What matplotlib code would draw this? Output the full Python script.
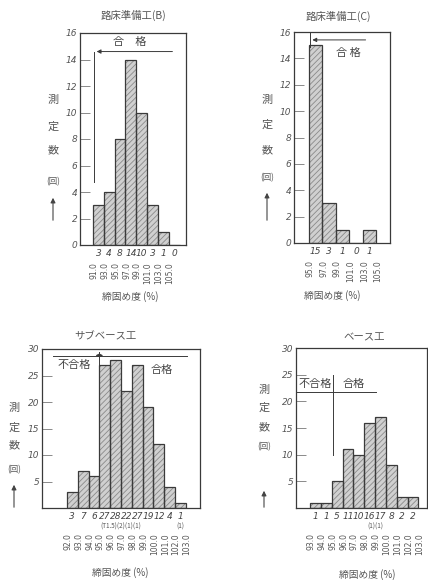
import numpy as np
import matplotlib
matplotlib.use('Agg')
import matplotlib.pyplot as plt
from matplotlib.transforms import ScaledTranslation

plt.rcParams['font.family'] = ['Noto Sans CJK JP', 'DejaVu Sans']
plt.rcParams['hatch.linewidth'] = 0.6

# data
titles = ['路床準備工(B)', '路床準備工(C)', 'サブベース工', 'ベース工']
counts_b = [3, 4, 8, 14, 10, 3, 1, 0]
edges_b = ['91.0', '93.0', '95.0', '97.0', '99.0', '101.0', '103.0', '105.0']
counts_c = [15, 3, 1, 0, 1]
edges_c = ['95.0', '97.0', '99.0', '101.0', '103.0', '105.0']
counts_sub = [3, 7, 6, 27, 28, 22, 27, 19, 12, 4, 1]
edges_sub = ['92.0', '93.0', '94.0', '95.0', '96.0', '97.0', '98.0', '99.0',
             '100.0', '101.0', '102.0', '103.0']
counts_base = [1, 1, 5, 11, 10, 16, 17, 8, 2, 2]
edges_base = ['93.0', '94.0', '95.0', '96.0', '97.0', '98.0', '99.0', '100.0',
              '101.0', '102.0', '103.0']

ink = '#3a3a3a'
W, H = 428, 580
fig = plt.figure(figsize=(W / 100, H / 100), dpi=100)


def px(x, y):
    return x / W, 1 - y / H


def below(ax, dy):
    # x in data, y = axis bottom shifted down by dy pixels
    return ax.get_xaxis_transform() + ScaledTranslation(0, -dy / 100, fig.dpi_scale_trans)


def panel(rect, counts, edges, ymax, ystep, xlim, show_zero, lab_dy):
    ax = fig.add_axes(rect)
    x = np.arange(len(counts))
    ax.bar(x, counts, width=1.0, align='edge', color='#d0d0d0', hatch='//////',
           edgecolor='#8a8a8a', linewidth=0)
    ax.bar(x, counts, width=1.0, align='edge', fill=False, edgecolor=ink, linewidth=0.9)
    ax.set_xlim(*xlim)
    ax.set_ylim(0, ymax)
    ticks = np.arange(0 if show_zero else ystep, ymax + 1, ystep)
    ax.set_yticks(ticks)
    ax.set_yticklabels([str(int(t)) for t in ticks], fontstyle='italic',
                       fontsize=6.5, color='#555', family='DejaVu Sans')
    ax.tick_params(axis='y', direction='in', length=7, width=0.6, color='#777', pad=2)
    ax.set_xticks([])
    for s in ax.spines.values():
        s.set_color(ink)
        s.set_linewidth(0.9)
    for i, c in enumerate(counts):
        ax.text(i + 0.5, 0, str(c), transform=below(ax, 4), ha='center', va='top',
                fontsize=6.5, fontstyle='italic', color='#444', family='DejaVu Sans')
    for i, e in enumerate(edges):
        ax.text(i + 0.1, 0, e, transform=below(ax, lab_dy), ha='center', va='top',
                rotation=90, fontsize=5.5, color='#555', family='DejaVu Sans')
    return ax


def ylabel(x, ys, arrow):
    for ch, y in zip(['測', '定', '数', '(回)'], ys):
        fs = 6 if ch == '(回)' else 8
        fig.text(*px(x, y), ch, ha='center', va='center', fontsize=fs, color='#555')
    fig.add_artist(matplotlib.patches.FancyArrowPatch(
        px(x, arrow[0]), px(x, arrow[1]), transform=fig.transFigure,
        arrowstyle='-|>', mutation_scale=7, color='#444', linewidth=0.8))


# panel 1
ax1 = panel([80 / W, 1 - 245 / H, 106 / W, 212 / H], counts_b, edges_b, 16, 2,
            (-1.2, 8.6), True, 17)
ax1.plot([0.08, 0.08], [4.75, 14.6], color=ink, lw=0.7)
ax1.annotate('', xy=(0.08, 14.6), xytext=(7.6, 14.6),
             arrowprops=dict(arrowstyle='-|>', color=ink, lw=0.7, mutation_scale=6))
ax1.text(3.4, 15.3, '合　格', ha='center', va='center', fontsize=8, color='#444')
fig.text(*px(133, 15), titles[0], ha='center', va='center', fontsize=7.5, color='#555')
fig.text(*px(130, 297), '締固め度 (%)', ha='center', va='center', fontsize=7, color='#555')
ylabel(53, [100, 127, 150, 182], (223, 195))

# panel 2
ax2 = panel([294 / W, 1 - 243 / H, 96 / W, 211 / H], counts_c, edges_c, 16, 2,
            (-1.1, 6.0), True, 17)
ax2.plot([0.05, 0.05], [14.9, 16], color=ink, lw=0.7)
ax2.annotate('', xy=(0.05, 15.4), xytext=(4.4, 15.4),
             arrowprops=dict(arrowstyle='-|>', color=ink, lw=0.7, mutation_scale=6))
ax2.text(2.9, 14.4, '合 格', ha='center', va='center', fontsize=8, color='#444')
fig.text(*px(338, 16), titles[1], ha='center', va='center', fontsize=7.5, color='#555')
fig.text(*px(332, 296), '締固め度 (%)', ha='center', va='center', fontsize=7, color='#555')
ylabel(267, [100, 125, 150, 178], (223, 190))

# panel 3
ax3 = panel([42 / W, 1 - 508 / H, 158 / W, 159 / H], counts_sub, edges_sub, 30, 5,
            (-2.3, 12.3), False, 25)
ax3.plot([-1.3, 11.1], [28.6, 28.6], color=ink, lw=0.7)
ax3.plot([3.0, 3.0], [26.0, 29.5], color=ink, lw=0.7)
ax3.annotate('', xy=(2.4, 28.8), xytext=(3.6, 28.8),
             arrowprops=dict(arrowstyle='<|-|>', color=ink, lw=0.6, mutation_scale=5))
ax3.text(0.7, 27.0, '不合格', ha='center', va='center', fontsize=8, color='#444')
ax3.text(8.8, 26.1, '合格', ha='center', va='center', fontsize=8, color='#444')
ax3.text(5.0, 0, '(T1.5)(2)(1)(1)', transform=below(ax3, 15),
         ha='center', va='top', fontsize=4.5, color='#555')
ax3.text(10.5, 0, '(1)', transform=below(ax3, 15),
         ha='center', va='top', fontsize=4.5, color='#555')
fig.text(*px(105, 336), titles[2], ha='center', va='center', fontsize=7.5, color='#555')
fig.text(*px(120, 573), '締固め度 (%)', ha='center', va='center', fontsize=7, color='#555')
ylabel(14, [408, 428, 445, 470], (510, 482))

# panel 4
ax4 = panel([296 / W, 1 - 508 / H, 131 / W, 160 / H], counts_base, edges_base, 30, 5,
            (-1.3, 10.8), False, 25)
ax4.plot([-1.2, 6.1], [21.7, 21.7], color=ink, lw=0.7)
ax4.plot([2.1, 2.1], [10.0, 25.0], color=ink, lw=0.7)
ax4.text(0.5, 23.2, '不合格', ha='center', va='center', fontsize=8, color='#444')
ax4.text(4.0, 23.2, '合格', ha='center', va='center', fontsize=8, color='#444')
ax4.text(6.0, 0, '(1)(1)', transform=below(ax4, 15),
         ha='center', va='top', fontsize=4.5, color='#555')
fig.text(*px(364, 337), titles[3], ha='center', va='center', fontsize=7.5, color='#555')
fig.text(*px(367, 575), '締固め度 (%)', ha='center', va='center', fontsize=7, color='#555')
ylabel(264, [390, 408, 427, 447], (510, 488))

fig.savefig('out.png', dpi=100)
